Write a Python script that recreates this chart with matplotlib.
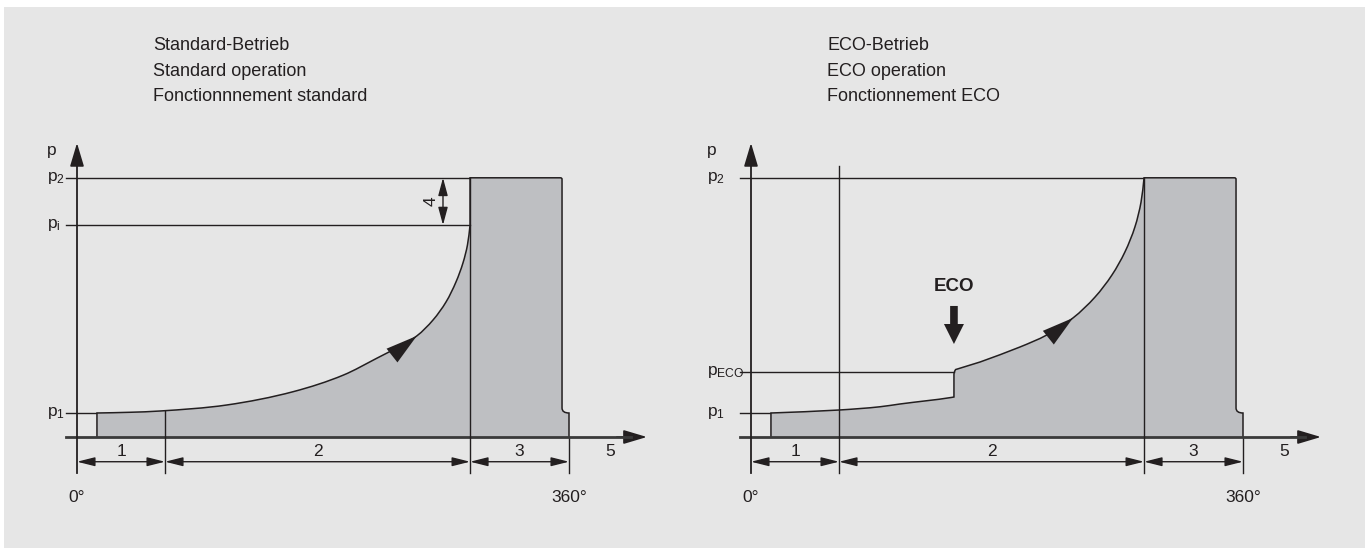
import matplotlib
matplotlib.use("Agg")
import matplotlib.pyplot as plt
from matplotlib.patches import Rectangle, PathPatch
from matplotlib.path import Path
import numpy as np

plt.rcParams['font.family'] = ['Liberation Sans', 'DejaVu Sans']
plt.rcParams['mathtext.fontset'] = 'custom'
plt.rcParams['mathtext.rm'] = 'Liberation Sans'
plt.rcParams['mathtext.it'] = 'Liberation Sans:italic'

# --- data: crank angle in degrees, pressure relative (p1 = 1) ---
sections = [0, 64.4, 287.6, 360]
section_labels = ['1', '2', '3']
label_5 = ('5', 390)
deg_labels = ['0°', '360°']

p1 = 1.0
p_i = 8.83
p2 = 10.8
p_eco = 2.71
start_deg = 14.6
plateau_end = 354.9
plateau_knee = 1.21

# standard operation compression curve
std_deg = [14.6, 38.8, 60.7, 109.5, 158.3, 194.9, 219.3, 236.3, 248.6, 260.5, 270.0, 277.3, 282.4, 285.7, 287.6]
std_p = [1.0, 1.03, 1.083, 1.333, 1.89, 2.58, 3.28, 3.79, 4.21, 4.875, 5.625, 6.46, 7.25, 8.0, 8.83]

# ECO operation: before and after the ECO port opens
eco_low_deg = [14.6, 64.6, 94.4, 109.0, 146.9, 148.5]
eco_low_p = [1.0, 1.125, 1.26, 1.375, 1.65, 1.667]
eco_up_deg = [148.5, 167.6, 196.8, 216.4, 235.6, 251.7, 264.1, 273.6, 280.9, 285.4, 287.6]
eco_up_p = [2.71, 3.125, 3.75, 4.25, 4.96, 5.83, 6.75, 7.71, 8.75, 9.79, 10.8]

titles_std = ['Standard-Betrieb', 'Standard operation', 'Fonctionnnement standard']
titles_eco = ['ECO-Betrieb', 'ECO operation', 'Fonctionnement ECO']

# --- layout ---
W, H = 1370, 548
PX_DEG = 492 / 360.0
PX_P = 24.0
LINE = '#231f20'
FILL = '#bebfc2'
BG = '#e6e6e6'
FS = 12.5

fig = plt.figure(figsize=(W / 100, H / 100), dpi=100)
fig.patch.set_facecolor('white')
fig.patches.append(Rectangle((4 / W, 0), 1361 / W, 541 / H, transform=fig.transFigure,
                             facecolor=BG, edgecolor='none', zorder=-10))


def make_axes(origin_x):
    # axes spans a fixed pixel box, origin of the diagram at (origin_x, 437)
    x0, x1, ytop, ybot = origin_x - 57, origin_x + 603, 30, 530
    ax = fig.add_axes([x0 / W, (H - ybot) / H, (x1 - x0) / W, (ybot - ytop) / H])
    ax.set_xlim((x0 - origin_x) / PX_DEG, (x1 - origin_x) / PX_DEG)
    ax.set_ylim((437 - ybot) / PX_P, (437 - ytop) / PX_P)
    ax.axis('off')
    ax.patch.set_alpha(0)
    return ax


def arrow(ax, tip, tail, hl, hw, lw=1.2, style='-|>'):
    ax.annotate('', xy=tip, xytext=tail,
                arrowprops=dict(arrowstyle=f'{style},head_length={hl},head_width={hw}',
                                color=LINE, lw=lw, shrinkA=0, shrinkB=0,
                                mutation_scale=1))


def smooth(xs, ps):
    # bezier segments through the read points, tangents from unit chords (screen scaled)
    sc = np.array([PX_DEG, PX_P])
    pts = np.column_stack([xs, ps]) * sc
    n = len(pts)
    tang = []
    for i in range(n):
        if i == 0:
            t = pts[1] - pts[0]
        elif i == n - 1:
            t = pts[-1] - pts[-2]
        else:
            d0 = pts[i] - pts[i - 1]
            d1 = pts[i + 1] - pts[i]
            t = d0 / np.linalg.norm(d0) + d1 / np.linalg.norm(d1)
        tang.append(t / np.linalg.norm(t))
    verts, codes = [], []
    for i in range(n - 1):
        L = np.linalg.norm(pts[i + 1] - pts[i]) / 3
        verts += [(pts[i] + tang[i] * L) / sc, (pts[i + 1] - tang[i + 1] * L) / sc, pts[i + 1] / sc]
        codes += [Path.CURVE4] * 3
    return verts, codes


def common(ax, label_x, titles):
    # axes
    ax.plot([-8, 405], [0, 0], color='#3a3a3a', lw=2.0, zorder=4)
    arrow(ax, (417, 0), (395, 0), 14.4, 4.3, lw=1.2)
    ax.plot([0, 0], [-1.5, 11.8], color=LINE, lw=1.3, zorder=4)
    arrow(ax, (0, 12.25), (0, 11.3), 14.4, 4.3, lw=1.2)
    ax.plot([-8, 287.6], [p2, p2], color=LINE, lw=1.0)
    ax.plot([-8, start_deg], [p1, p1], color=LINE, lw=1.0)
    ax.plot([sections[2]] * 2, [-1.5, p2], color=LINE, lw=1.0, zorder=5)
    ax.plot([sections[3]] * 2, [-1.5, 0], color=LINE, lw=1.0)
    # dimension line
    for a, b in zip(sections[:-1], sections[1:]):
        arrow(ax, (b, -1.03), (a, -1.03), 10.8, 2.7, lw=1.0, style='<|-|>')
    for lab, a, b in zip(section_labels, sections[:-1], sections[1:]):
        ax.text((a + b) / 2, -0.61, lab, ha='center', va='center', fontsize=FS, color=LINE)
    ax.text(label_5[1], -0.61, label_5[0], ha='center', va='center', fontsize=FS, color=LINE)
    ax.text(sections[0], -2.53, deg_labels[0], ha='center', va='center', fontsize=FS, color=LINE)
    ax.text(sections[3], -2.53, deg_labels[1], ha='center', va='center', fontsize=FS, color=LINE)
    # p labels
    ax.text(label_x, 11.95, 'p', ha='left', va='center', fontsize=FS, color=LINE)
    ax.text(label_x, p2, r'$\mathrm{p}_{\mathrm{2}}$', ha='left', va='center', fontsize=FS, color=LINE)
    ax.text(label_x, p1, r'$\mathrm{p}_{\mathrm{1}}$', ha='left', va='center', fontsize=FS, color=LINE)
    for k, t in enumerate(titles):
        ax.text(55.8, 16.33 - 1.08 * k, t, ha='left', va='center', fontsize=13, color=LINE)


def add_shape(ax, pieces):
    # pieces: list of (verts, codes); starts at (start_deg, 0), ends with plateau
    verts = [(start_deg, 0), (start_deg, p1)]
    codes = [Path.MOVETO, Path.LINETO]
    for v, c in pieces:
        verts += v
        codes += c
    tail = [(287.6, p2), (plateau_end - 1.2, p2), (plateau_end, p2), (plateau_end, p2 - 0.06),
            (plateau_end, plateau_knee), (plateau_end, p1), (360, p1), (360, 0)]
    tcodes = [Path.LINETO, Path.LINETO, Path.CURVE3, Path.CURVE3,
              Path.LINETO, Path.CURVE3, Path.CURVE3, Path.LINETO]
    verts += tail
    codes += tcodes
    ax.add_patch(PathPatch(Path(verts, codes), facecolor=FILL, edgecolor=LINE, lw=1.1, zorder=2))


# ---------------- left: standard ----------------
axL = make_axes(77)
common(axL, -22, titles_std)
add_shape(axL, [smooth(std_deg, std_p)])
axL.plot([-8, 287.6], [p_i, p_i], color=LINE, lw=1.0)
axL.text(-22, p_i, r'$\mathrm{p}_{\mathrm{i}}$', ha='left', va='center', fontsize=FS, color=LINE)
axL.plot([sections[1]] * 2, [-1.5, np.interp(sections[1], std_deg, std_p)], color=LINE, lw=1.0, zorder=5)
# dimension 4 between p_i and p2
arrow(axL, (267.8, p2), (267.8, p_i), 10.8, 2.9, lw=1.0, style='<|-|>')
axL.text(259.4, (p_i + p2) / 2, '4', rotation=90, ha='center', va='center', fontsize=FS, color=LINE)
# direction arrow on curve
arrow(axL, (248.6, 4.21), (230.4, 3.39), 22.7, 6.3, lw=0.01)

# ---------------- right: ECO ----------------
axR = make_axes(751)
common(axR, -32.2, titles_eco)
lv, lc = smooth(eco_low_deg, eco_low_p)
step = ([(eco_up_deg[0], eco_up_p[0] - 0.1), (eco_up_deg[0], eco_up_p[0]), (eco_up_deg[0] + 1.2, eco_up_p[0] + 0.1)],
        [Path.LINETO, Path.CURVE3, Path.CURVE3])
uv, uc = smooth(eco_up_deg[1:], eco_up_p[1:])
add_shape(axR, [(lv, lc), step, ([(eco_up_deg[1], eco_up_p[1])], [Path.LINETO]), (uv, uc)])
axR.plot([-8, eco_up_deg[0]], [p_eco, p_eco], color=LINE, lw=1.0)
axR.text(-32.2, p_eco, r'$\mathrm{p}_{\mathrm{ECO}}$', ha='left', va='center', fontsize=FS, color=LINE)
axR.plot([sections[1]] * 2, [-1.5, 11.29], color=LINE, lw=1.0, zorder=5)
# ECO injection marker
axR.text(eco_up_deg[0], 6.26, 'ECO', ha='center', va='center', fontsize=13.5, fontweight='bold', color=LINE)
axR.annotate('', xy=(eco_up_deg[0], 3.875), xytext=(eco_up_deg[0], 5.46),
             arrowprops=dict(arrowstyle='simple,head_length=14.4,head_width=14.4,tail_width=5.5',
                             color=LINE, lw=0, shrinkA=0, shrinkB=0, mutation_scale=1))
arrow(axR, (235.6, 4.96), (217.6, 4.14), 22.7, 6.3, lw=0.01)

fig.savefig('out.png', dpi=100, facecolor=fig.get_facecolor())
